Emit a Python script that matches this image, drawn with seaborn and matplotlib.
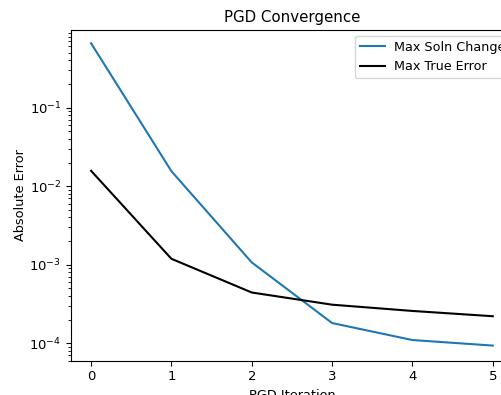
import matplotlib
matplotlib.use('Agg')
import matplotlib.pyplot as plt
import seaborn as sns

iterations = [0, 1, 2, 3, 4, 5]
max_soln_change = [0.66, 0.0155, 0.00107, 0.000181, 0.000110, 0.0000935]
max_true_error = [0.0157, 0.00119, 0.000443, 0.000310, 0.000258, 0.000221]

fig = plt.figure(figsize=(5.01, 3.95), dpi=100)
# the original picture is cropped on the right, so the axes run past the edge
ax = fig.add_axes([0.1417, 0.0868, 0.882, 0.837])

sns.lineplot(x=iterations, y=max_soln_change, color='#1f77b4', label='Max Soln Change', ax=ax)
sns.lineplot(x=iterations, y=max_true_error, color='k', label='Max True Error', ax=ax)

ax.set_yscale('log')
ax.set_ylim(6.0e-5, 0.97)
ax.set_xlabel('PGD Iteration', fontsize=9.3)
ax.set_ylabel('Absolute Error', fontsize=9.3, labelpad=1.5)
ax.set_title('PGD Convergence', fontsize=10.8)
ax.tick_params(labelsize=9.5)
ax.legend(loc='upper left', bbox_to_anchor=(0.695, 0.926), bbox_transform=fig.transFigure,
          fontsize=9.2, handletextpad=0.7)

fig.savefig('out.png', dpi=100)
